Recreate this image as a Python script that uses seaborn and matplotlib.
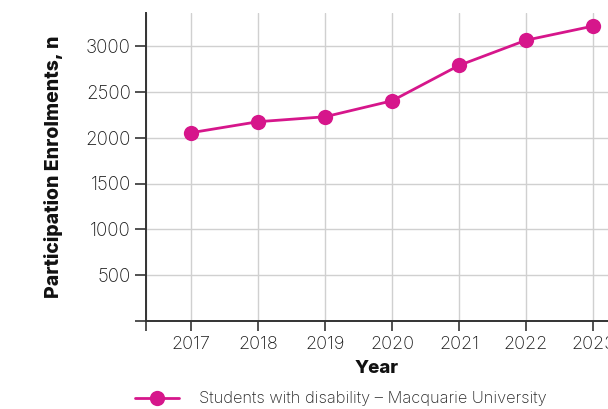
import matplotlib
matplotlib.use("Agg")
import matplotlib.pyplot as plt
import seaborn as sns
import pandas as pd

years = [2017, 2018, 2019, 2020, 2021, 2022, 2023]
enrolments = [2054, 2174, 2228, 2402, 2788, 3063, 3217]
series_name = "Students with disability \u2013 Macquarie University"
y_ticks = [500, 1000, 1500, 2000, 2500, 3000]

sns.set_theme(style="white")
plt.rcParams['font.family'] = ['Inter', 'DejaVu Sans']

df = pd.DataFrame({"Year": years, "Enrolments": enrolments, "Series": series_name})

color = "#D6168B"
fig = plt.figure(figsize=(6.08, 4.09), dpi=100)
ax = fig.add_axes([146/608, 1-321/409, 1-146/608, (321-13)/409])

sns.lineplot(data=df, x="Year", y="Enrolments", ax=ax, color=color, marker="o",
             markersize=11, markeredgewidth=0, linewidth=2.0, label=series_name, legend=False)

x0 = 2017 - 45/67
ax.set_xlim(x0, 2023 + 15/67)
ax.set_ylim(0, 3360)

ax.set_xticks([x0] + years)
ax.set_xticklabels([""] + [str(y) for y in years])
ax.set_yticks([0] + y_ticks)
ax.set_yticklabels([""] + [str(v) for v in y_ticks])

for s in ["top", "right"]:
    ax.spines[s].set_visible(False)
for s in ["left", "bottom"]:
    ax.spines[s].set_color("#333333")
    ax.spines[s].set_linewidth(1.4)

ax.tick_params(axis="y", direction="out", length=8, width=1.2, color="#333333",
               labelsize=13.5, labelcolor="#1a1a1a", pad=3, left=True)
ax.tick_params(axis="x", direction="out", length=7, width=1.2, color="#333333",
               labelsize=13, labelcolor="#1a1a1a", pad=4, bottom=True)
for lbl in ax.get_xticklabels() + ax.get_yticklabels():
    lbl.set_fontweight("light")

ax.grid(True, color="#d0d0d0", linewidth=1.0)
ax.set_axisbelow(True)

ax.set_xlabel("Year", fontsize=13.5, fontweight="heavy", labelpad=5, color="#111111")
ax.set_ylabel("Participation Enrolments, n", fontsize=14, fontweight="heavy", labelpad=16,
              color="#111111")

handles, labels = ax.get_legend_handles_labels()
fig.legend(handles, labels, loc="center left", bbox_to_anchor=(120/608, 1-399/409),
           frameon=False, handlelength=2.7, handletextpad=1.2,
           prop={"weight": "light", "size": 11.8})

fig.savefig("out.png", dpi=100)
